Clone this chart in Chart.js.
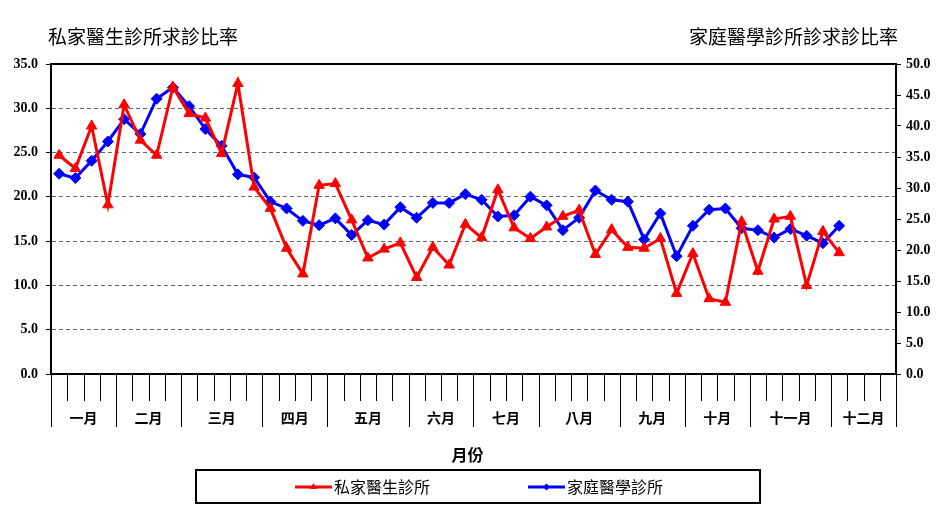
<!DOCTYPE html>
<html>
<head>
<meta charset="utf-8">
<script src="https://cdn.jsdelivr.net/npm/chart.js@4.4.0/dist/chart.umd.min.js"></script>
<style>
  body { margin: 0; background: #fff; }
  canvas { display: block; }
</style>
</head>
<body>
<canvas id="chart" width="948" height="514"></canvas>
<script>
// months and how many weekly slots each one gets on the x axis
const months = ['一月', '二月', '三月', '四月', '五月', '六月', '七月', '八月', '九月', '十月', '十一月', '十二月'];
const weeksPerMonth = [4, 4, 5, 4, 5, 4, 4, 5, 4, 4, 5, 4];

// weekly rates
const privateRate = [24.7, 23.2, 28.0, 19.1, 30.4, 26.4, 24.7, 32.4, 29.4, 28.9, 24.9, 32.8, 21.1, 18.7, 14.2, 11.3,
  21.3, 21.5, 17.4, 13.1, 14.1, 14.8, 10.9, 14.3, 12.3, 16.9, 15.4, 20.8, 16.5, 15.3, 16.6, 17.8, 18.5, 13.5, 16.3,
  14.3, 14.2, 15.3, 9.1, 13.6, 8.5, 8.1, 17.2, 11.6, 17.5, 17.8, 10.0, 16.1, 13.7];
const familyRate = [32.3, 31.6, 34.4, 37.5, 41.1, 38.7, 44.4, 46.2, 43.2, 39.5, 36.8, 32.2, 31.7, 27.8, 26.7, 24.7,
  24.0, 25.1, 22.4, 24.8, 24.1, 26.9, 25.2, 27.6, 27.6, 29.0, 28.1, 25.4, 25.6, 28.6, 27.2, 23.2, 25.2, 29.6, 28.1,
  27.8, 21.7, 25.9, 19.0, 23.9, 26.5, 26.7, 23.5, 23.2, 22.0, 23.4, 22.3, 21.1, 23.9];

const leftTitle = '私家醫生診所求診比率';
const rightTitle = '家庭醫學診所診求診比率';
const xTitle = '月份';

// one category per week
const weekLabels = [];
months.forEach((m, mi) => {
  for (let w = 0; w < weeksPerMonth[mi]; w++) weekLabels.push(m + ' ' + (w + 1));
});

const cjk = '"Noto Sans CJK TC", "Noto Sans CJK SC", sans-serif';
const numFont = { family: '"Liberation Serif", "Times New Roman", serif', size: 14, weight: 'bold' };

const frameAndLabels = {
  id: 'frameAndLabels',
  afterDraw(chart) {
    const { ctx, chartArea: a } = chart;
    const x = chart.scales.x;
    const step = (a.right - a.left) / weekLabels.length;
    ctx.save();

    // plot frame
    ctx.strokeStyle = '#000';
    ctx.lineWidth = 2;
    ctx.strokeRect(a.left, a.top, a.right - a.left, a.bottom - a.top);

    // week ticks, longer at month boundaries
    const boundaries = new Set([0]);
    let acc = 0;
    weeksPerMonth.forEach(n => { acc += n; boundaries.add(acc); });
    ctx.lineWidth = 1;
    for (let i = 0; i <= weekLabels.length; i++) {
      const px = Math.round((i < weekLabels.length ? x.getPixelForValue(i) - step / 2 : x.getPixelForValue(i - 1) + step / 2)) + 0.5;
      ctx.beginPath();
      ctx.moveTo(px, a.bottom);
      ctx.lineTo(px, a.bottom + (boundaries.has(i) ? 53 : 27));
      ctx.stroke();
    }

    // month names, centred in their span
    ctx.fillStyle = '#000';
    ctx.font = 'bold 14px ' + cjk;
    ctx.textAlign = 'center';
    ctx.textBaseline = 'middle';
    let start = 0;
    months.forEach((m, mi) => {
      const first = x.getPixelForValue(start) - step / 2;
      const last = x.getPixelForValue(start + weeksPerMonth[mi] - 1) + step / 2;
      ctx.fillText(m, (first + last) / 2, a.bottom + 44);
      start += weeksPerMonth[mi];
    });

    // titles
    ctx.font = '19px ' + cjk;
    ctx.textAlign = 'left';
    ctx.fillText(leftTitle, 48, 37);
    ctx.textAlign = 'right';
    ctx.fillText(rightTitle, 898, 37);
    ctx.textAlign = 'center';
    ctx.font = 'bold 16px ' + cjk;
    ctx.fillText(xTitle, (a.left + a.right) / 2 - 6, 455);

    // legend box
    ctx.lineWidth = 2;
    ctx.strokeRect(196, 470, 564, 33);
    const items = chart.data.datasets.map((d, i) => ({ d, lx: i === 0 ? 295 : 528 }));
    ctx.font = '16px ' + cjk;
    ctx.textAlign = 'left';
    items.forEach(({ d, lx }) => {
      const ly = 487;
      ctx.strokeStyle = d.borderColor;
      ctx.fillStyle = d.borderColor;
      ctx.lineWidth = 3;
      ctx.beginPath();
      ctx.moveTo(lx, ly);
      ctx.lineTo(lx + 37, ly);
      ctx.stroke();
      const cx = lx + 18.5;
      ctx.beginPath();
      if (d.pointStyle === 'triangle') {
        ctx.moveTo(cx, ly - 4); ctx.lineTo(cx + 3.5, ly + 2); ctx.lineTo(cx - 3.5, ly + 2);
      } else {
        ctx.moveTo(cx, ly - 3.5); ctx.lineTo(cx + 3.5, ly); ctx.lineTo(cx, ly + 3.5); ctx.lineTo(cx - 3.5, ly);
      }
      ctx.closePath();
      ctx.fill();
      ctx.fillStyle = '#000';
      ctx.fillText(d.label, lx + 39, ly);
    });
    ctx.restore();
  }
};

new Chart(document.getElementById('chart'), {
  type: 'line',
  data: {
    labels: weekLabels,
    datasets: [
      {
        label: '私家醫生診所',
        data: privateRate,
        yAxisID: 'y',
        borderColor: '#FF0000',
        backgroundColor: '#FF0000',
        borderWidth: 3,
        pointStyle: 'triangle',
        pointRadius: 6,
        pointBorderWidth: 1,
        tension: 0,
      },
      {
        label: '家庭醫學診所',
        data: familyRate,
        yAxisID: 'y1',
        borderColor: '#0000FF',
        backgroundColor: '#0000FF',
        borderWidth: 3,
        pointStyle: 'rectRot',
        pointRadius: 5.5,
        pointBorderWidth: 1,
        tension: 0,
      },
    ],
  },
  options: {
    responsive: false,
    animation: false,
    devicePixelRatio: 1,
    layout: { padding: { top: 64, bottom: 140, left: 0, right: 0 } },
    plugins: {
      legend: { display: false },
      tooltip: { enabled: false },
    },
    scales: {
      x: {
        offset: true,
        ticks: { display: false },
        grid: { display: false },
        border: { display: false },
        afterFit: (s) => { s.height = 0; },
      },
      y: {
        position: 'left',
        min: 0,
        max: 35,
        ticks: {
          stepSize: 5,
          padding: 8,
          color: '#000',
          font: numFont,
          callback: (v) => v.toFixed(1),
        },
        grid: {
          color: (c) => (c.tick && (c.tick.value === 0 || c.tick.value === 35) ? 'rgba(0,0,0,0)' : '#666'),
          tickColor: '#000',
          tickLength: 5,
          lineWidth: 1,
        },
        border: { display: true, color: '#000', width: 2, dash: [4, 3] },
        afterFit: (s) => { s.width = 51; },
      },
      y1: {
        position: 'right',
        min: 0,
        max: 50,
        ticks: {
          stepSize: 5,
          padding: 5,
          color: '#000',
          font: numFont,
          callback: (v) => v.toFixed(1),
        },
        grid: { drawOnChartArea: false, tickColor: '#000', tickLength: 5 },
        border: { display: true, color: '#000', width: 2 },
        afterFit: (s) => { s.width = 52; },
      },
    },
  },
  plugins: [frameAndLabels],
});
</script>
</body>
</html>
